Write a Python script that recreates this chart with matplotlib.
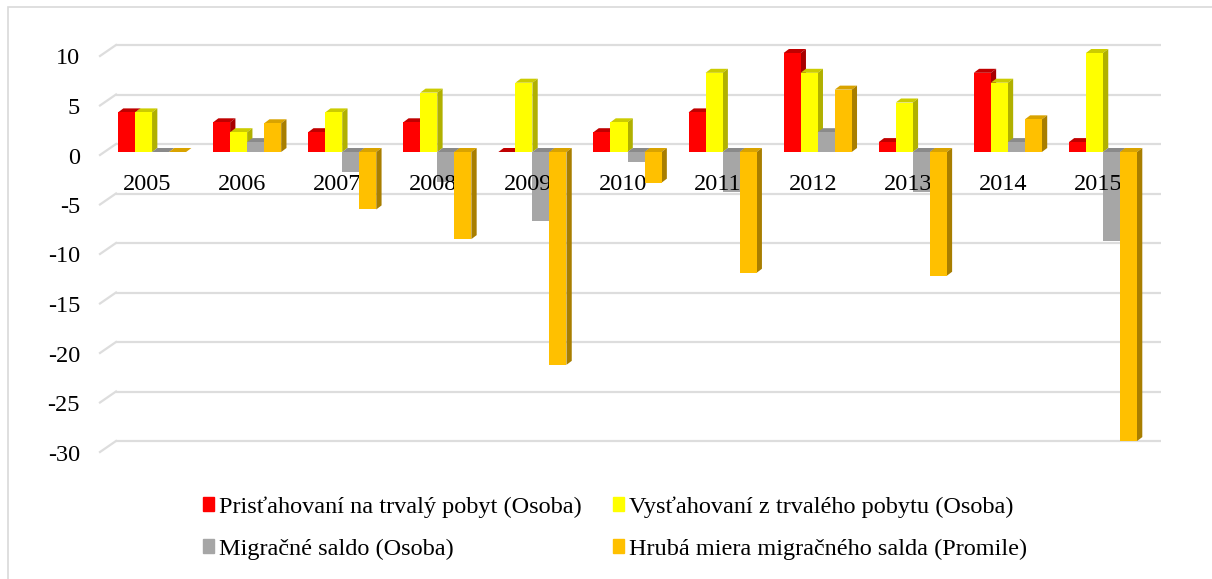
import matplotlib.pyplot as plt
import numpy as np
from matplotlib.patches import Polygon, Rectangle

# data
years = ["2005", "2006", "2007", "2008", "2009", "2010", "2011", "2012", "2013", "2014", "2015"]
immigrants = [4, 3, 2, 3, 0, 2, 4, 10, 1, 8, 1]
emigrants = [4, 2, 4, 6, 7, 3, 8, 8, 5, 7, 10]
net_migration = [0, 1, -2, -3, -7, -1, -4, 2, -4, 1, -9]
crude_rate = [0, 2.9, -5.8, -8.8, -21.5, -3.1, -12.2, 6.3, -12.5, 3.3, -29.2]

series_names = [
    "Prisťahovaní na trvalý pobyt (Osoba)",
    "Vysťahovaní z trvalého pobytu (Osoba)",
    "Migračné saldo (Osoba)",
    "Hrubá miera migračného salda (Promile)",
]
y_ticks = [10, 5, 0, -5, -10, -15, -20, -25, -30]

# front, top, side colours per series
palette = [
    ("#FF0000", "#C00000", "#A80000"),
    ("#FFFF00", "#CCCC00", "#B0B000"),
    ("#A6A6A6", "#8A8A8A", "#7A7A7A"),
    ("#FFC000", "#D9A300", "#A87E00"),
]

plt.rcParams["font.family"] = ["Liberation Serif", "DejaVu Serif"]
FS = 17.5

fig = plt.figure(figsize=(12.12, 5.79), dpi=100)
ax = fig.add_axes([104.5 / 1212, 1 - 449 / 579, 1046 / 1212, 396 / 579])
ax.set_xlim(-0.5, 10.5)
ax.set_ylim(-30, 10)
ax.set_axis_off()

# pixel -> data conversions
px_x = 11 / 1046
px_y = 40 / 396

# back-wall gridlines with a short slanted edge on the left
for v in y_ticks:
    yb = v + 8 * px_y
    yf = v - 3 * px_y
    x_back0 = -0.5 + 11.5 * px_x
    x_front0 = -0.5 - 4.5 * px_x
    x_back1 = 10.5 + 10.5 * px_x
    ax.plot([x_back0, x_back1], [yb, yb], color="#DDDDDD", lw=1.6, zorder=0,
            clip_on=False, solid_capstyle="butt")
    ax.plot([x_front0, x_back0], [yf, yb], color="#DDDDDD", lw=1.6, zorder=0,
            clip_on=False)
    ax.text(-0.5 - 24.5 * px_x, yf - 3 * px_y, str(v), ha="right", va="center",
            fontsize=FS)

all_series = [immigrants, emigrants, net_migration, crude_rate]
x = np.arange(len(years))
w = 0.179
ddx = 5.3 * px_x
ddy = 4 * px_y

for k, (vals, (front, top, side)) in enumerate(zip(all_series, palette)):
    xs = x - 1.5 * w + k * w
    z = 2 + k * 2 if k < 3 else 9
    bars = ax.bar(xs, vals, width=w, color=front, zorder=z, linewidth=0, clip_on=False)
    for xc, v in zip(xs, vals):
        x0, x1 = xc - w / 2, xc + w / 2
        lo, hi = min(v, 0), max(v, 0)
        top_face = Polygon([(x0, hi), (x0 + ddx, hi + ddy), (x1 + ddx, hi + ddy), (x1, hi)],
                           closed=True, color=top, lw=0, zorder=z - 0.5, clip_on=False)
        side_face = Polygon([(x1, lo), (x1 + ddx, lo + ddy), (x1 + ddx, hi + ddy), (x1, hi)],
                            closed=True, color=side, lw=0, zorder=z - 0.5, clip_on=False)
        ax.add_patch(top_face)
        ax.add_patch(side_face)

# category labels sit just under the zero line, between the grey and orange bars
for i, yr in enumerate(years):
    ax.text(i - 0.05, -3.3, yr, ha="center", va="center", fontsize=FS, zorder=7)

# legend, filled row by row like the original
handles = [Rectangle((0, 0), 1, 1, color=p[0]) for p in palette]
order = [0, 2, 1, 3]
fig.legend([handles[i] for i in order], [series_names[i] for i in order],
           loc="center", bbox_to_anchor=(615 / 1212, 1 - 528 / 579),
           ncol=2, frameon=False, fontsize=FS, handlelength=0.45, handleheight=0.5,
           handletextpad=0.2, columnspacing=1.3, labelspacing=0.85)

# outer chart frame (top and left edges visible in the crop)
fig.patches.append(Rectangle((8 / 1212, -0.05), 1.1, 1.05 - 7 / 579, transform=fig.transFigure,
                             fill=False, edgecolor="#D9D9D9", lw=1.2))

fig.savefig("out.png", dpi=100)
